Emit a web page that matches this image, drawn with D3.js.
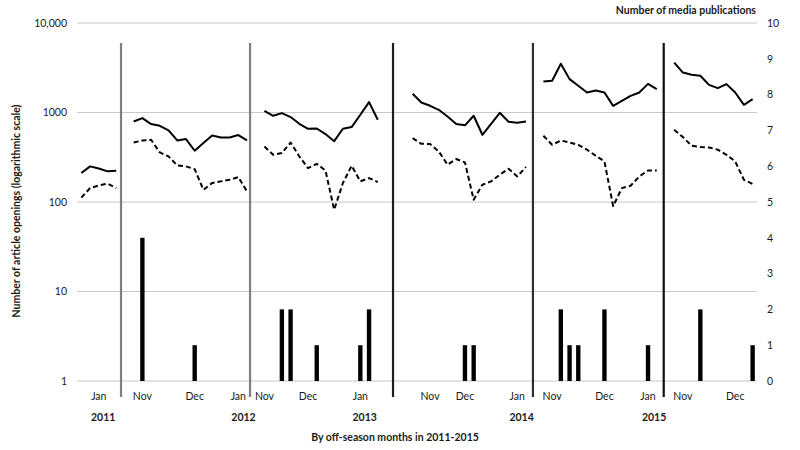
<!DOCTYPE html>
<html>
<head>
<meta charset="utf-8">
<script src="https://cdn.jsdelivr.net/npm/d3@7"></script>
<style>
  html, body { margin: 0; padding: 0; background: #fff; }
  svg { display: block; }
  text { font-family: Lato, "Open Sans", sans-serif; fill: #1a1a1a; }
</style>
</head>
<body>
<svg id="chart" width="800" height="450"></svg>
<script>
// ---------- DATA ----------
// Weekly categories (78 slots); each off-season block starts at a slot index
const segmentStart = [0, 6, 21, 38, 53, 68];

// Solid line: number of article openings (log scale), per block
const openingsSolid = [
  [211, 250, 237, 220, 223],
  [794, 866, 742, 711, 630, 487, 505, 374, 455, 553, 526, 526, 560, 487],
  [1045, 919, 985, 889, 748, 658, 663, 574, 478, 658, 687, 943, 1306, 829],
  [1617, 1294, 1188, 1072, 902, 742, 719, 919, 564, 748, 993, 787, 767, 794],
  [2218, 2259, 3499, 2360, 1986, 1672, 1762, 1672, 1186, 1349, 1535, 1672, 2090, 1824],
  [3614, 2793, 2636, 2570, 2037, 1871, 2075, 1672, 1219, 1413]
];

// Dashed line: number of article openings (log scale), per block
const openingsDashed = [
  [112, 143, 153, 160, 143],
  [462, 487, 496, 358, 323, 256, 250, 233, 137, 163, 170, 177, 190, 131],
  [417, 337, 352, 462, 323, 239, 267, 225, 82, 163, 254, 170, 185, 167],
  [518, 447, 444, 367, 261, 302, 277, 106, 156, 170, 202, 235, 193, 246],
  [550, 436, 487, 462, 436, 384, 329, 284, 90, 143, 152, 193, 225, 225],
  [641, 531, 425, 411, 407, 384, 337, 284, 177, 159]
];

// Bars: number of media publications (right axis)
const pubSlot  = [7, 13, 23, 24, 27, 32, 33, 44, 45, 55, 56, 57, 60, 65, 71, 77];
const pubCount = [4, 1, 2, 2, 1, 1, 2, 1, 1, 2, 1, 1, 2, 1, 2, 1];

// Season separators (slot boundaries)
const separatorSlot = [5.05, 19.85, 36.25, 52.3, 67.3];

// Category axis labels
const monthLabels = ["Jan", "Nov", "Dec", "Jan", "Nov", "Dec", "Jan", "Nov", "Dec", "Jan", "Nov", "Dec", "Jan", "Nov", "Dec"];
const monthSlot   = [2, 7, 13, 18, 21, 26, 32, 40, 44, 50, 54, 60, 65, 69, 75];
const yearLabels  = ["2011", "2012", "2013", "2014", "2015"];
const yearSlot    = [2.5, 18.6, 32.5, 50.5, 65.7];

const leftTicks  = [1, 10, 100, 1000, 10000];
const leftTickLabels = ["1", "10", "100", "1000", "10,000"];
const rightTicks = [0, 1, 2, 3, 4, 5, 6, 7, 8, 9, 10];
const slotCount = 78;

// ---------- CHART ----------
const svg = d3.select("#chart");
const plot = { left: 77, right: 757, top: 23, bottom: 381 };

const x = d3.scaleLinear().domain([0, slotCount]).range([plot.left, plot.right]);
const cx = i => x(i + 0.5);
const yL = d3.scaleLog().domain([1, 10000]).range([plot.bottom, plot.top]);
const yR = d3.scaleLinear().domain([0, 10]).range([plot.bottom, plot.top]);

// gridlines
svg.append("g").selectAll("line").data(leftTicks).join("line")
  .attr("x1", plot.left).attr("x2", plot.right)
  .attr("y1", d => yL(d)).attr("y2", d => yL(d))
  .attr("stroke", "#c8c8c8").attr("stroke-width", 1);

// left axis labels
const leftAxis = d3.axisLeft(yL).tickValues(leftTicks)
  .tickFormat((d, i) => leftTickLabels[i]).tickSize(0).tickPadding(10);
const gl = svg.append("g").attr("transform", `translate(${plot.left},0)`).call(leftAxis);
gl.select(".domain").remove();
gl.selectAll("text").style("font-size", "10.5px").style("font-family", "Lato, sans-serif").attr("fill", "#1a1a1a");

// right axis labels
const rightAxis = d3.axisRight(yR).tickValues(rightTicks).tickSize(0).tickPadding(10);
const gr = svg.append("g").attr("transform", `translate(${plot.right},0)`).call(rightAxis);
gr.select(".domain").remove();
gr.selectAll("text").style("font-size", "10.5px").style("font-family", "Lato, sans-serif").attr("fill", "#1a1a1a");

// bars
const barW = (x(1) - x(0)) * 0.5;
svg.append("g").selectAll("rect").data(pubSlot.map((s, i) => ({ s, v: pubCount[i] }))).join("rect")
  .attr("x", d => cx(d.s) - barW / 2)
  .attr("width", barW)
  .attr("y", d => yR(d.v))
  .attr("height", d => yR(0) - yR(d.v))
  .attr("fill", "#000");

// separators
const sepColors = ["#7f7f7f", "#7f7f7f", "#1e1e1e", "#2e2e2e", "#0e0e0e"];
svg.append("g").selectAll("line").data(separatorSlot).join("line")
  .attr("x1", d => x(d)).attr("x2", d => x(d))
  .attr("y1", 43).attr("y2", 397)
  .attr("stroke", (d, i) => sepColors[i]).attr("stroke-width", 2.2);

// lines
const line = d3.line().x(d => cx(d.s)).y(d => yL(d.v));
function drawSeries(blocks, dash) {
  blocks.forEach((vals, b) => {
    const pts = vals.map((v, k) => ({ s: segmentStart[b] + k, v }));
    svg.append("path").datum(pts)
      .attr("d", line)
      .attr("fill", "none")
      .attr("stroke", "#000")
      .attr("stroke-width", 2)
      .attr("stroke-linejoin", "round")
      .attr("stroke-dasharray", dash);
  });
}
drawSeries(openingsSolid, null);
drawSeries(openingsDashed, "5,3");

// category labels
svg.append("g").selectAll("text").data(monthLabels).join("text")
  .attr("x", (d, i) => cx(monthSlot[i])).attr("y", 397)
  .attr("text-anchor", "middle").attr("dominant-baseline", "middle")
  .style("font-size", "10.5px").text(d => d);
svg.append("g").selectAll("text").data(yearLabels).join("text")
  .attr("x", (d, i) => cx(yearSlot[i])).attr("y", 418)
  .attr("text-anchor", "middle").attr("dominant-baseline", "middle")
  .style("font-size", "10.5px").style("font-weight", "bold").text(d => d);

// titles
svg.append("text").attr("x", 395).attr("y", 438)
  .attr("text-anchor", "middle").attr("dominant-baseline", "middle")
  .style("font-size", "10.5px").style("font-weight", "bold")
  .text("By off-season months in 2011-2015");
svg.append("text").attr("x", 756).attr("y", 11)
  .attr("text-anchor", "end").attr("dominant-baseline", "middle")
  .style("font-size", "10.5px").style("font-weight", "bold")
  .text("Number of media publications");
svg.append("text")
  .attr("transform", "translate(17,211) rotate(-90)")
  .attr("text-anchor", "middle").attr("dominant-baseline", "middle")
  .style("font-size", "10.5px").style("font-weight", "bold")
  .text("Number of article openings (logarithmic scale)");
</script>
</body>
</html>
